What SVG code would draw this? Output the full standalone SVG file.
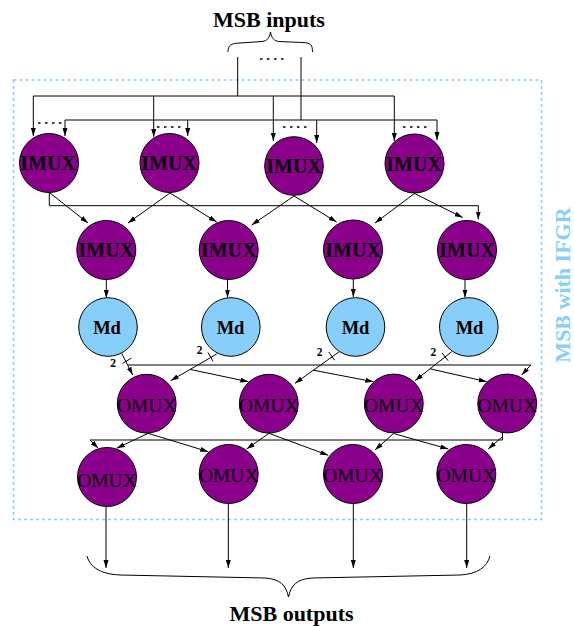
<svg xmlns="http://www.w3.org/2000/svg" width="574" height="627" viewBox="0 0 574 627">
<style>
.imux{fill:#8B008B;stroke:#000;stroke-width:1}
.md{fill:#87CEFA;stroke:#000;stroke-width:1}
.w{fill:none;stroke:#000;stroke-width:1}
.a{fill:none;stroke:#000;stroke-width:1;marker-end:url(#ah)}
.dots{fill:none;stroke:#000;stroke-width:1.6;stroke-dasharray:2.5 4.5}
.tb{font-family:"Liberation Serif","Times New Roman",serif;font-weight:bold;fill:#000;text-anchor:middle}
.tr{font-family:"Liberation Serif","Times New Roman",serif;fill:#000;text-anchor:middle}
</style>
<defs>
<marker id="ah" markerUnits="userSpaceOnUse" markerWidth="9" markerHeight="6" refX="8" refY="2.5" orient="auto">
<path d="M0,0 L8,2.5 L0,5 z" fill="#000"/>
</marker>
</defs>
<rect x="13.5" y="80" width="528" height="439.5" fill="none" stroke="#87CEFA" stroke-width="1.5" stroke-dasharray="3 3"/>
<text class="tb" x="269" y="27" font-size="22">MSB inputs</text>
<text class="tb" x="291.5" y="620.5" font-size="22">MSB outputs</text>
<text class="tb" transform="translate(570,285) rotate(-90)" font-size="22" style="fill:#87CEFA">MSB with IFGR</text>
<g id="connectors">
<path class="w" d="M228,52 C228,45 231,43.5 240,43 L262,41.5 C267,41 269.5,38 270.5,32 C271.5,38 274,41 279,41.5 L303,42.5 C311,43 312.5,45 312.5,52"/>
<path class="w" d="M87,556 C90,567 100,574 120,575 L265,578 C280,579 286,585 288.5,597 C291,585 297,579 312,578 L460,575 C478,574 487,567 490,556"/>
<line class="dots" x1="260" y1="59" x2="285" y2="59"/>
<line class="w" x1="237.7" y1="57" x2="237.7" y2="96"/>
<line class="w" x1="301" y1="57" x2="301" y2="120"/>
<line class="w" x1="33.3" y1="96" x2="394.3" y2="96"/>
<line class="w" x1="65" y1="120" x2="437" y2="120"/>
<line class="a" x1="33.3" y1="96" x2="33.3" y2="136"/>
<line class="a" x1="153.7" y1="96" x2="153.7" y2="137"/>
<line class="a" x1="273.3" y1="96" x2="273.3" y2="141"/>
<line class="a" x1="394.3" y1="96" x2="394.3" y2="141"/>
<line class="a" x1="65" y1="120" x2="65" y2="136"/>
<line class="a" x1="187.7" y1="120" x2="187.7" y2="136"/>
<line class="a" x1="316.7" y1="120" x2="316.7" y2="143"/>
<line class="a" x1="437" y1="120" x2="437" y2="140"/>
<line class="dots" x1="38" y1="123" x2="62" y2="123"/>
<line class="dots" x1="157" y1="127" x2="182" y2="127"/>
<line class="dots" x1="283" y1="127" x2="307" y2="127"/>
<line class="dots" x1="403" y1="127" x2="428" y2="127"/>
<polyline class="a" points="49.3,193 49.3,205.7 478.3,205.7 478.3,219.5"/>
<line class="a" x1="50" y1="193" x2="88" y2="223"/>
<line class="a" x1="170" y1="193" x2="128" y2="223"/>
<line class="a" x1="170" y1="193" x2="216.7" y2="222"/>
<line class="a" x1="294" y1="196" x2="251.7" y2="225"/>
<line class="a" x1="294" y1="196" x2="336.7" y2="222"/>
<line class="a" x1="414.5" y1="193.5" x2="375" y2="223"/>
<line class="a" x1="414.5" y1="193.5" x2="462.7" y2="217.5"/>
<line class="a" x1="106.3" y1="279.5" x2="106.3" y2="298"/>
<line class="a" x1="227.5" y1="279.5" x2="227.5" y2="297.5"/>
<line class="a" x1="353.3" y1="279" x2="353.3" y2="297"/>
<line class="a" x1="465" y1="279.5" x2="465" y2="297.5"/>
<line class="a" x1="121.7" y1="353.3" x2="132.7" y2="375"/>
<line class="w" x1="122.5" y1="363.5" x2="131.5" y2="358"/>
<text class="tb" x="113" y="367" font-size="11.5">2</text>
<polyline class="a" points="128,365 530.7,365 521.7,375"/>
<line class="a" x1="216.7" y1="354" x2="170.7" y2="380.7"/>
<line class="a" x1="190" y1="369.4" x2="248.3" y2="381.7"/>
<line class="w" x1="208" y1="352.5" x2="213" y2="361.3"/>
<text class="tb" x="199.7" y="354" font-size="11.5">2</text>
<line class="a" x1="339.3" y1="351.7" x2="295" y2="383.3"/>
<line class="a" x1="313.3" y1="370.2" x2="373.3" y2="381.7"/>
<line class="w" x1="328.8" y1="352" x2="334.6" y2="360.2"/>
<text class="tb" x="319.7" y="355.5" font-size="11.5">2</text>
<line class="a" x1="451.7" y1="351.7" x2="415" y2="380.7"/>
<line class="a" x1="430" y1="368.8" x2="486.7" y2="381.7"/>
<line class="w" x1="441.9" y1="352.8" x2="448.1" y2="360.6"/>
<text class="tb" x="433.3" y="355.5" font-size="11.5">2</text>
<polyline class="w" points="502.5,433 502.5,440 90,440"/>
<line class="a" x1="90" y1="440" x2="98.3" y2="448.3"/>
<line class="a" x1="148" y1="433.3" x2="116.7" y2="448.3"/>
<line class="a" x1="148" y1="433.3" x2="208.3" y2="451.7"/>
<line class="a" x1="269" y1="433.3" x2="246.7" y2="449"/>
<line class="a" x1="269" y1="433.3" x2="328.3" y2="455.3"/>
<line class="a" x1="393.5" y1="433.5" x2="375" y2="450"/>
<line class="a" x1="393.5" y1="433.5" x2="448.3" y2="449"/>
<line class="a" x1="502" y1="437" x2="488.3" y2="449"/>
<line class="a" x1="106" y1="506.5" x2="106" y2="568"/>
<line class="a" x1="228.3" y1="504" x2="228.3" y2="568"/>
<line class="a" x1="353.3" y1="504" x2="353.3" y2="568"/>
<line class="a" x1="466.7" y1="504" x2="466.7" y2="568"/>
</g>
<g id="imux1_1"><circle class="imux" cx="49" cy="163" r="29.5"/><text class="tb" x="48" y="170" font-size="20">IMUX</text></g>
<g id="imux1_2"><circle class="imux" cx="169.5" cy="163" r="29.5"/><text class="tb" x="169" y="170" font-size="20">IMUX</text></g>
<g id="imux1_3"><circle class="imux" cx="294" cy="166" r="29.3"/><text class="tb" x="294" y="173" font-size="20">IMUX</text></g>
<g id="imux1_4"><circle class="imux" cx="414.5" cy="163.5" r="29.5"/><text class="tb" x="414" y="170.5" font-size="20">IMUX</text></g>
<g id="imux2_1"><circle class="imux" cx="106.3" cy="250" r="29.5"/><text class="tb" x="106.3" y="257" font-size="20">IMUX</text></g>
<g id="imux2_2"><circle class="imux" cx="228.7" cy="250" r="29.5"/><text class="tb" x="228.7" y="257" font-size="20">IMUX</text></g>
<g id="imux2_3"><circle class="imux" cx="353" cy="249.5" r="29.5"/><text class="tb" x="353" y="256.5" font-size="20">IMUX</text></g>
<g id="imux2_4"><circle class="imux" cx="467" cy="250" r="29.5"/><text class="tb" x="467" y="257" font-size="20">IMUX</text></g>
<g id="md1"><circle class="md" cx="108" cy="327" r="29.3"/><text class="tb" x="107" y="333.5" font-size="18.5">Md</text></g>
<g id="md2"><circle class="md" cx="230.8" cy="327" r="29.3"/><text class="tb" x="230.5" y="333.5" font-size="18.5">Md</text></g>
<g id="md3"><circle class="md" cx="355.5" cy="327" r="29.3"/><text class="tb" x="355.5" y="333.5" font-size="18.5">Md</text></g>
<g id="md4"><circle class="md" cx="468.8" cy="327" r="29.3"/><text class="tb" x="469.5" y="333.5" font-size="18.5">Md</text></g>
<g id="omux1_1"><circle class="imux" cx="146.7" cy="403.7" r="29.4"/><text class="tr" x="146.7" y="411.7" font-size="19.5">OMUX</text></g>
<g id="omux1_2"><circle class="imux" cx="268.8" cy="403.7" r="29.4"/><text class="tr" x="268.8" y="411.7" font-size="19.5">OMUX</text></g>
<g id="omux1_3"><circle class="imux" cx="393.8" cy="403.5" r="29.4"/><text class="tr" x="393.8" y="411.5" font-size="19.5">OMUX</text></g>
<g id="omux1_4"><circle class="imux" cx="507.2" cy="403.5" r="29.4"/><text class="tr" x="507.2" y="411.5" font-size="19.5">OMUX</text></g>
<g id="omux2_1"><circle class="imux" cx="107" cy="477" r="29.5"/><text class="tr" x="107" y="486.5" font-size="19.5">OMUX</text></g>
<g id="omux2_2"><circle class="imux" cx="228.7" cy="474" r="29.5"/><text class="tr" x="228.7" y="481.7" font-size="19.5">OMUX</text></g>
<g id="omux2_3"><circle class="imux" cx="353" cy="474" r="29.5"/><text class="tr" x="353" y="481.7" font-size="19.5">OMUX</text></g>
<g id="omux2_4"><circle class="imux" cx="466.3" cy="474" r="29.5"/><text class="tr" x="466.3" y="481.7" font-size="19.5">OMUX</text></g>
</svg>
